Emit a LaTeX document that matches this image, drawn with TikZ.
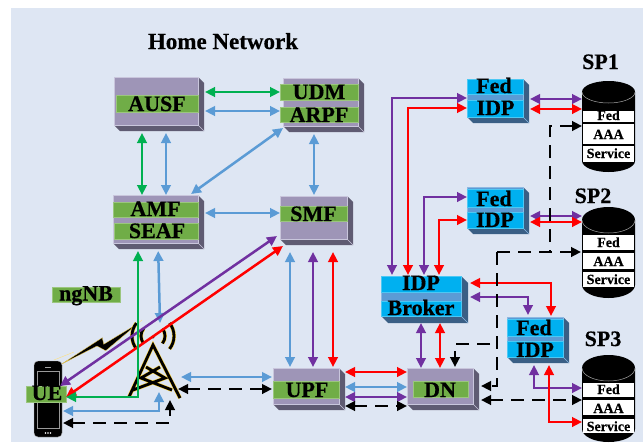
\documentclass[tikz,border=0pt]{standalone}
\usepackage{fontspec}
\setmainfont{Liberation Serif}[BoldFeatures={FakeBold=0.5}]
\usetikzlibrary{arrows.meta,calc}
\definecolor{bgc}{HTML}{DEE6F3}
\definecolor{bandg}{HTML}{70AD47}
\definecolor{gfront}{HTML}{9E95B7}
\definecolor{gside}{HTML}{5F5B72}
\definecolor{gedge}{HTML}{C9C6DC}
\definecolor{cyanb}{HTML}{00B0F0}
\definecolor{bfront}{HTML}{5B9BD5}
\definecolor{bside}{HTML}{3A5F85}
\definecolor{bedge}{HTML}{8DB9E2}
\definecolor{blu}{HTML}{5B9BD5}
\definecolor{grn}{HTML}{00B050}
\definecolor{pur}{HTML}{7030A0}
\definecolor{redd}{HTML}{FF0000}
\tikzset{
  x=1pt,y=-1pt,
  tipbig/.tip={Triangle[length=10pt,width=9.5pt]},
  conn/.style={line width=2.6pt,line join=miter},
  bi/.style={conn,tipbig-tipbig,draw=#1},
  uni/.style={conn,-tipbig,draw=#1},
  slant/.style={line width=2.5pt},
  dashbi/.style={conn,tipbig-tipbig,black,dash pattern=on 13pt off 8pt},
  dashuni/.style={conn,-tipbig,black,dash pattern=on 13pt off 8pt},
  gap/.style 2 args={shorten <=#1pt,shorten >=#2pt},
  lab/.style={anchor=base,inner sep=0pt,font=\fontsize{22}{22}\selectfont\bfseries,text=black},
  cell/.style={anchor=base,inner sep=0pt,font=\fontsize{14}{14}\selectfont\bfseries,text=black},
  frame/.style={inner sep=0pt,outer sep=0pt,line width=0.7pt},
}
% name, x1, y1, x2, y2, depth, front, side, edge
\newcommand{\dbox}[9]{%
  \fill[#8] (#4,#3) -- (#4+#6,#3+#6) -- (#4+#6,#5+#6) -- (#2+#6,#5+#6) -- (#2,#5) -- cycle;
  \node[frame,draw=#9,fill=#7,minimum width={(#4-#2)*1pt},minimum height={(#5-#3)*1pt}] (#1) at ({(#2+#4)/2},{(#3+#5)/2}) {};
  \draw[#9,line width=0.6pt] (#4,#5) -- (#4+#6,#5+#6);
}
\newcommand{\band}[5]{\path[fill=#5,draw=#5!70!white,line width=0.4pt] (#1,#2) rectangle (#3,#4);}
% name, x1, y1, x2, y2, ry
\newcommand{\cyl}[6]{%
  \fill[black] (#2,#3+#6) arc[start angle=180,end angle=360,x radius={(#4-#2)/2},y radius=#6]
     -- (#4,#5-#6) arc[start angle=0,end angle=180,x radius={(#4-#2)/2},y radius=#6] -- cycle;
  \draw[gray!70,line width=0.5pt] (#2,#3+#6) arc[start angle=180,end angle=0,x radius={(#4-#2)/2},y radius=#6];
  \node[inner sep=0pt,outer sep=0pt,minimum width={(#4-#2)*1pt},minimum height={(#5-#3)*1pt}] (#1) at ({(#2+#4)/2},{(#3+#5)/2}) {};
}
\newcommand{\wcell}[2]{\fill[white] (583,#1) rectangle (634,#2);}
\begin{document}
\begin{tikzpicture}
\useasboundingbox (0,0) rectangle (644,442);
\fill[bgc] (11,8) rectangle (643,442);
\node[lab] (title) at (223,49) {\fontsize{23}{23}\selectfont Home Network};

% --- core boxes
\dbox{ausf}{114}{77}{198}{125}{6}{gfront}{gside}{gedge}
\band{116}{95}{198}{112}{bandg}
\dbox{udm}{283}{78}{358}{126}{6}{gfront}{gside}{gedge}
\band{280}{84}{358}{100}{bandg}
\band{280}{107}{358}{122}{bandg}
\dbox{amf}{113}{195}{198}{243}{6}{gfront}{gside}{gedge}
\band{113}{202}{198}{217}{bandg}
\band{114}{223}{198}{239}{bandg}
\dbox{smf}{280}{196}{347}{239}{6}{gfront}{gside}{gedge}
\band{280}{206}{347}{221}{bandg}
\dbox{upf}{273}{368}{339}{404}{6}{gfront}{gside}{gedge}
\band{273}{381}{339}{398}{bandg}
\dbox{dn}{407}{368}{473}{404}{6}{gfront}{gside}{gedge}
\band{413}{381}{468}{397}{bandg}

% --- IDP boxes
\dbox{broker}{381}{276}{461}{316}{7}{bfront}{bside}{bedge}
\band{381}{276}{461}{292}{cyanb}
\band{381}{301}{461}{316}{cyanb}
\dbox{fedi}{467}{79}{523}{117}{6}{bfront}{bside}{bedge}
\band{467}{79}{523}{94}{cyanb}
\band{467}{100}{523}{117}{cyanb}
\dbox{fedii}{467}{187}{523}{228}{6}{bfront}{bside}{bedge}
\band{467}{189}{523}{207}{cyanb}
\band{467}{212}{523}{228}{cyanb}
\dbox{fediii}{507}{317}{563}{357}{6}{bfront}{bside}{bedge}
\band{507}{319}{563}{336}{cyanb}
\band{507}{341}{563}{357}{cyanb}

% --- service providers
\cyl{spi}{582}{81}{635}{172}{11}
\wcell{111}{122}\wcell{124}{144}\wcell{146}{162}
\cyl{spii}{582}{207}{635}{298}{13}
\wcell{235}{250}\wcell{253}{269}\wcell{272}{287}
\cyl{spiii}{582}{355}{635}{442}{13}
\wcell{383}{397}\wcell{400}{415}\wcell{419}{433}

% --- phone
\node[inner sep=0pt,outer sep=0pt,fill=black,draw=gray!60,line width=0.4pt,rounded corners=4pt,minimum width=28pt,minimum height=76pt] (ue) at (48,399) {};
\draw[gray!80,line width=0.7pt] (37,371) rectangle (59,428);
\draw[gray!70,line width=0.8pt] (45,367) -- (51,367);
\fill[white] (45.5,433) circle (0.9) (48,433) circle (0.9) (50.5,433) circle (0.9);
\band{26}{386}{66}{402}{bandg}
\band{52}{287}{120}{302}{bandg}

% --- lightning
\fill[black,draw=yellow!60!orange!70,line width=0.3pt] (61.7,364) -- (102.3,337.7) -- (103.7,344.3) -- (138.3,323.3) -- (105.7,350.7) -- (97,346) -- cycle;
\draw[yellow!60!orange!50,line width=0.4pt] (54,360) -- (74,352) (132,328) -- (142,320);

% --- tower
\node[inner sep=0pt,outer sep=0pt,minimum width=50pt,minimum height=54pt] (tower) at (154,371) {};
\foreach \col/\wid in {{yellow!60!orange!80}/3.8,black/2.8}{
  \draw[\col,line width=\wid pt,line join=miter] (129,397) -- (153,345) -- (180,398)
    (146,367) -- (165,378) -- (133,390) (160,367) -- (141,378) -- (172,390);
  \draw[\col,line width=\wid pt] (153,336) ++(142:21) arc[start angle=142,end angle=218,radius=21]
    (153,336) ++(142:12) arc[start angle=142,end angle=218,radius=12]
    (153,336) ++(-38:21) arc[start angle=-38,end angle=38,radius=21]
    (153,336) ++(-38:12) arc[start angle=-38,end angle=38,radius=12];
}
\fill[black] (153,337) circle (1.5);
\coordinate (towertop) at (160,323);
\coordinate (towerfoot) at (159,392);
\coordinate (towerleg) at (170,400);

% --- connectors: core
\draw[bi=grn,gap={7}{3}] (ausf.east |- 0,92) -- (udm.west |- 0,92);
\draw[bi=blu,gap={7}{3}] (ausf.east |- 0,111) -- (udm.west |- 0,111);
\draw[bi=grn,gap={8}{0}] (ausf.south -| 142,0) -- (amf.north -| 142,0);
\draw[bi=blu,gap={8}{0}] (ausf.south -| 166,0) -- (amf.north -| 166,0);
\draw[bi=blu,slant] ([xshift=-7pt,yshift=1pt]amf.north east) -- ([yshift=-2pt]udm.south west);
\draw[bi=blu,gap={8}{1}] (udm.south -| 314,0) -- (smf.north -| 314,0);
\draw[bi=blu,gap={7}{0}] (amf.east |- 0,213) -- (smf.west |- 0,213);
\draw[bi=blu,slant,gap={8}{0}] (amf.south -| 158,0) -- (towertop);
\draw[bi=blu,gap={13}{1}] (smf.south -| 290,0) -- (upf.north -| 290,0);
\draw[bi=pur,gap={13}{1}] (smf.south -| 313,0) -- (upf.north -| 313,0);
\draw[bi=redd,gap={13}{1}] (smf.south -| 333,0) -- (upf.north -| 333,0);
\draw[bi=pur,slant] ([xshift=-3pt,yshift=3pt]smf.south west) -- ([xshift=-2pt,yshift=-25pt]ue.north east);
\coordinate (uered) at (66,397);
\draw[bi=redd,slant] ([xshift=3pt,yshift=-7pt]smf.south west) -- (uered);
\draw[bi=grn,gap={8}{0}] (amf.south -| 138,0) |- (uered);
\draw[bi=blu,gap={2}{1}] (tower.east |- 0,377) -- (upf.west |- 0,377);
\draw[dashbi,gap={0}{1}] (178,389) -- (upf.west |- 0,389);
\draw[bi=blu,gap={1}{0}] (ue.east |- 0,411) -| (towerfoot);
\draw[dashbi,gap={1}{0}] (ue.east |- 0,423) -| (towerleg);

% --- connectors: UPF / DN
\draw[bi=redd,gap={6}{0}] (upf.east |- 0,372) -- (dn.west |- 0,372);
\draw[bi=blu,gap={6}{0}] (upf.east |- 0,387) -- (dn.west |- 0,387);
\draw[bi=pur,gap={6}{0}] (upf.east |- 0,397) -- (dn.west |- 0,397);
\draw[dashbi,gap={6}{0}] (upf.east |- 0,406) -- (dn.west |- 0,406);

% --- connectors: IDP
\draw[bi=pur,gap={1}{0}] (broker.north -| 392,0) |- (fedi.west |- 0,98);
\draw[bi=redd,gap={1}{0}] (broker.north -| 408,0) |- (fedi.west |- 0,108);
\draw[bi=pur,gap={1}{0}] (broker.north -| 424,0) |- (fedii.west |- 0,197);
\draw[bi=redd,gap={1}{0}] (broker.north -| 439,0) |- (fedii.west |- 0,220);
\draw[bi=pur,gap={7}{0}] (broker.south -| 421,0) -- (dn.north -| 421,0);
\draw[bi=redd,gap={7}{0}] (broker.south -| 440,0) -- (dn.north -| 440,0);
\draw[bi=pur,gap={7}{0}] (fedi.east |- 0,99) -- (spi.west |- 0,99);
\draw[bi=redd,gap={7}{0}] (fedi.east |- 0,109) -- (spi.west |- 0,109);
\draw[bi=pur,gap={7}{0}] (fedii.east |- 0,216) -- (spii.west |- 0,216);
\draw[bi=redd,gap={7}{0}] (fedii.east |- 0,222) -- (spii.west |- 0,222);
\draw[bi=redd,gap={9}{1}] (broker.east |- 0,283) -| (fediii.north -| 551,0);
\draw[bi=pur,gap={9}{2}] (broker.east |- 0,297) -| (fediii.north -| 528,0);
\draw[bi=pur,gap={8}{0}] (fediii.south -| 534,0) |- (spiii.west |- 0,388);
\draw[bi=redd,gap={8}{0}] (fediii.south -| 549,0) |- (spiii.west |- 0,422);

% --- connectors: dashed black
\coordinate (dashknee) at (497,252);
\coordinate (dashup) at (550,252);
\draw[dashuni] (dashknee) -- (dashup) |- (spi.west |- 0,126);
\draw[dashuni,shorten >=1pt] (dashknee) -- (spii.west |- 0,252);
\draw[dashuni,gap={0}{8}] (dashknee) |- (dn.east |- 0,386);
\coordinate (dashdn) at (490,344);
\draw[dashuni,gap={0}{1}] (dashdn) -| (dn.north -| 455,0);
\draw[dashbi,gap={8}{0}] (dn.east |- 0,400) -- (spiii.west |- 0,400);

% --- labels
\node[lab] (lausf) at (157,111) {AUSF};
\node[lab] (ludm) at (319,99) {UDM};
\node[lab] (larpf) at (319,122) {ARPF};
\node[lab] (lamf) at (155.5,216) {AMF};
\node[lab] (lseaf) at (157,238) {SEAF};
\node[lab] (lsmf) at (313.5,221) {SMF};
\node[lab] (lupf) at (307,397) {UPF};
\node[lab] (ldn) at (440,397) {DN};
\node[lab] (lidp) at (421,290) {IDP};
\node[lab] (lbrk) at (421,315) {Broker};
\node[lab] (lfedi) at (494,93) {Fed};
\node[lab] (lidpi) at (495.5,115) {IDP};
\node[lab] (lfedii) at (494,206) {Fed};
\node[lab] (lidpii) at (495,227) {IDP};
\node[lab] (lfediii) at (534,335) {Fed};
\node[lab] (lidpiii) at (535,357) {IDP};
\node[lab] (lngnb) at (86,300.5) {ngNB};
\node[lab] (lue) at (47,400) {UE};
\node[lab] (lspi) at (600.5,69) {SP1};
\node[lab] (lspii) at (593,203) {SP2};
\node[lab] (lspiii) at (603,346) {SP3};
\node[cell] (ci) at (608.5,120) {Fed};
\node[cell] (cii) at (608.5,139) {AAA};
\node[cell] (ciii) at (608.5,158) {Service};
\node[cell] (civ) at (608.5,247) {Fed};
\node[cell] (cv) at (608.5,266) {AAA};
\node[cell] (cvi) at (608.5,284) {Service};
\node[cell] (cvii) at (608.5,394) {Fed};
\node[cell] (cviii) at (608.5,413) {AAA};
\node[cell] (cix) at (608.5,431) {Service};
\end{tikzpicture}
\end{document}
